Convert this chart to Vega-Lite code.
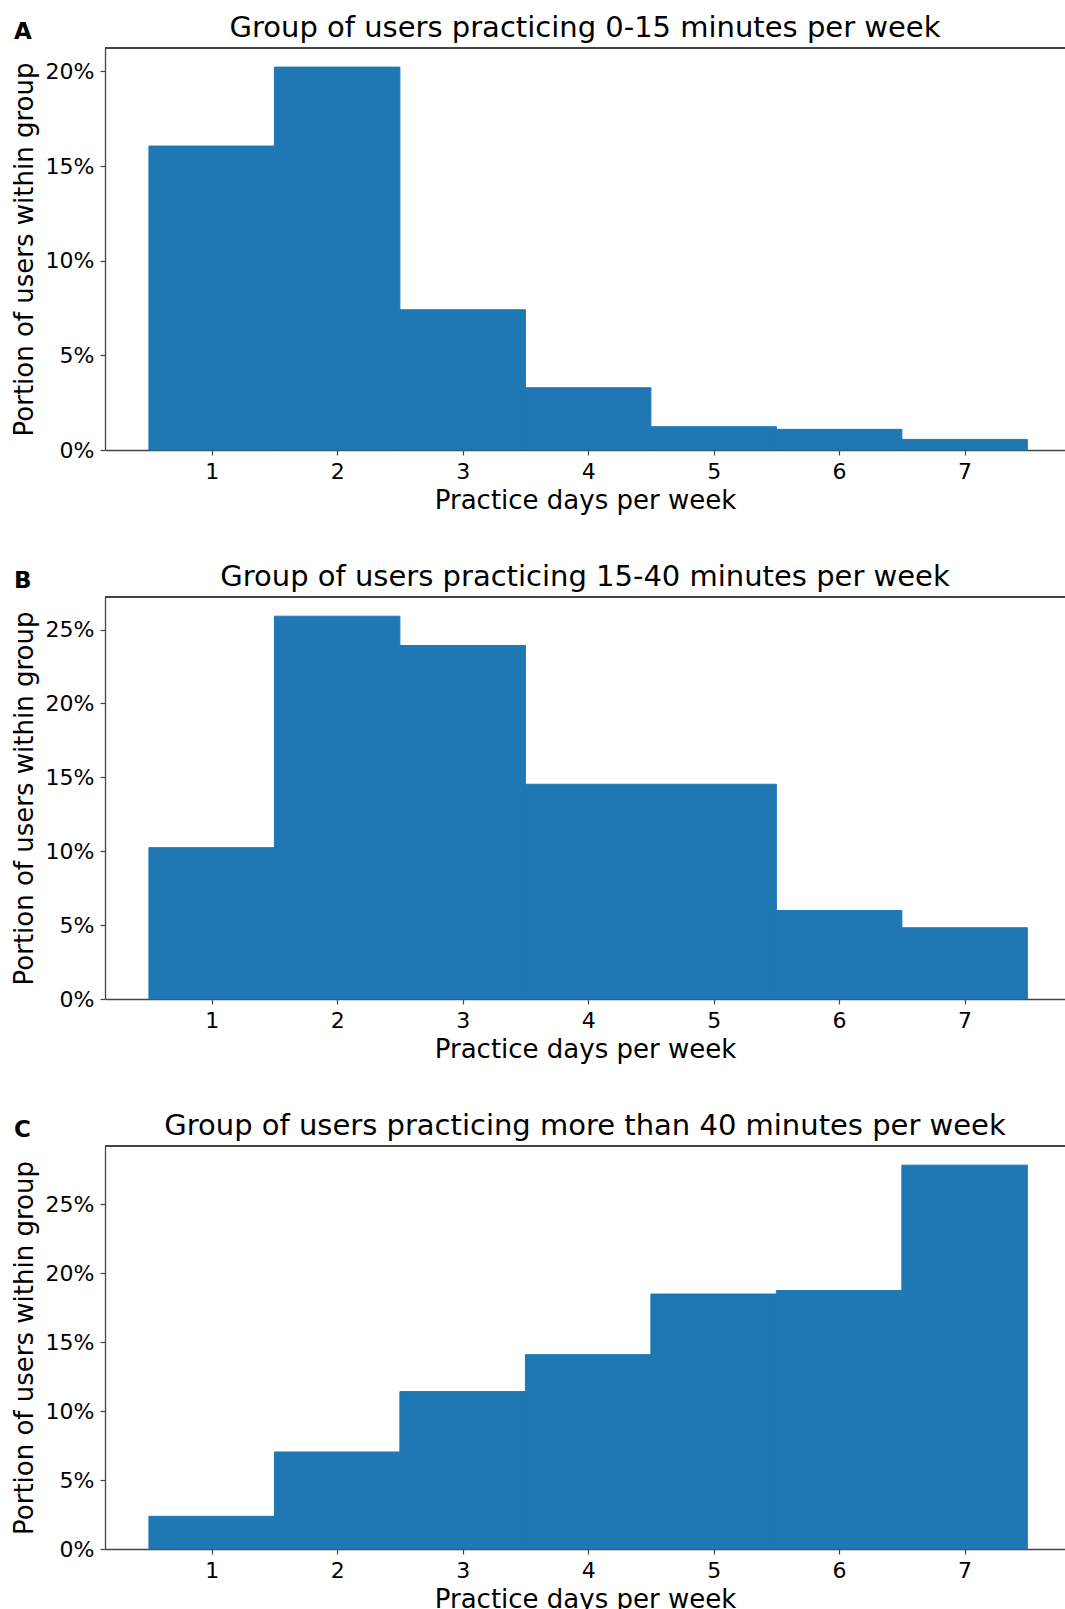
{
  "$schema": "https://vega.github.io/schema/vega-lite/v6.json",
  "padding": {"left": 11, "top": 14, "right": 0, "bottom": 0},
  "spacing": 50,
  "config": {
    "font": "DejaVu Sans",
    "view": {"stroke": null},
    "axis": {
      "grid": false,
      "domainColor": "#444444",
      "domainWidth": 1.3,
      "tickColor": "#444444",
      "tickWidth": 1.2,
      "tickSize": 5,
      "labelColor": "#000000",
      "labelFontSize": 22,
      "labelPadding": 6,
      "labelFlush": false,
      "titleColor": "#000000",
      "titleFontSize": 26,
      "titleFontWeight": "normal",
      "titlePadding": 8
    },
    "axisX": {"titlePadding": 5},
    "title": {"fontSize": 29, "fontWeight": "normal", "color": "#000000", "baseline": "alphabetic", "offset": 4}
  },
  "datasets": {
    "A": [
      {"day": 1, "start": 0.5, "end": 1.5, "pct": 16.06},
      {"day": 2, "start": 1.5, "end": 2.5, "pct": 20.23},
      {"day": 3, "start": 2.5, "end": 3.5, "pct": 7.41},
      {"day": 4, "start": 3.5, "end": 4.5, "pct": 3.29},
      {"day": 5, "start": 4.5, "end": 5.5, "pct": 1.23},
      {"day": 6, "start": 5.5, "end": 6.5, "pct": 1.09},
      {"day": 7, "start": 6.5, "end": 7.5, "pct": 0.56}
    ],
    "B": [
      {"day": 1, "start": 0.5, "end": 1.5, "pct": 10.24},
      {"day": 2, "start": 1.5, "end": 2.5, "pct": 25.9},
      {"day": 3, "start": 2.5, "end": 3.5, "pct": 23.92},
      {"day": 4, "start": 3.5, "end": 4.5, "pct": 14.53},
      {"day": 5, "start": 4.5, "end": 5.5, "pct": 14.53},
      {"day": 6, "start": 5.5, "end": 6.5, "pct": 5.99},
      {"day": 7, "start": 6.5, "end": 7.5, "pct": 4.82}
    ],
    "C": [
      {"day": 1, "start": 0.5, "end": 1.5, "pct": 2.37},
      {"day": 2, "start": 1.5, "end": 2.5, "pct": 7.04},
      {"day": 3, "start": 2.5, "end": 3.5, "pct": 11.42},
      {"day": 4, "start": 3.5, "end": 4.5, "pct": 14.1},
      {"day": 5, "start": 4.5, "end": 5.5, "pct": 18.5},
      {"day": 6, "start": 5.5, "end": 6.5, "pct": 18.75},
      {"day": 7, "start": 6.5, "end": 7.5, "pct": 27.85}
    ]
  },
  "vconcat": [
    {
      "title": {"text": "A", "anchor": "start", "frame": "bounds", "fontSize": 23, "fontWeight": "bold", "offset": -30, "dx": 3},
      "vconcat": [
        {
          "width": 960, "height": 402,
          "title": "Group of users practicing 0-15 minutes per week",
          "data": {"name": "A"},
          "layer": [
            {
              "mark": {"type": "bar", "color": "#1f77b4", "stroke": "#1f77b4", "strokeWidth": 1},
              "encoding": {
                "x": {"field": "start", "type": "quantitative", "scale": {"domain": [0.15, 7.8], "nice": false, "zero": false},
                      "axis": {"values": [1, 2, 3, 4, 5, 6, 7], "title": "Practice days per week"}},
                "x2": {"field": "end"},
                "y": {"field": "pct", "type": "quantitative", "scale": {"domain": [0, 21.24], "nice": false},
                      "axis": {"values": [0, 5, 10, 15, 20], "labelExpr": "datum.value + '%'", "title": "Portion of users within group"}},
                "y2": {"datum": 0}
              }
            },
            {"mark": {"type": "rule", "color": "#444444", "strokeWidth": 1.3}, "encoding": {"y": {"datum": 21.24}}}
          ]
        }
      ]
    },
    {
      "title": {"text": "B", "anchor": "start", "frame": "bounds", "fontSize": 23, "fontWeight": "bold", "offset": -30, "dx": 3},
      "vconcat": [
        {
          "width": 960, "height": 402,
          "title": "Group of users practicing 15-40 minutes per week",
          "data": {"name": "B"},
          "layer": [
            {
              "mark": {"type": "bar", "color": "#1f77b4", "stroke": "#1f77b4", "strokeWidth": 1},
              "encoding": {
                "x": {"field": "start", "type": "quantitative", "scale": {"domain": [0.15, 7.8], "nice": false, "zero": false},
                      "axis": {"values": [1, 2, 3, 4, 5, 6, 7], "title": "Practice days per week"}},
                "x2": {"field": "end"},
                "y": {"field": "pct", "type": "quantitative", "scale": {"domain": [0, 27.2], "nice": false},
                      "axis": {"values": [0, 5, 10, 15, 20, 25], "labelExpr": "datum.value + '%'", "title": "Portion of users within group"}},
                "y2": {"datum": 0}
              }
            },
            {"mark": {"type": "rule", "color": "#444444", "strokeWidth": 1.3}, "encoding": {"y": {"datum": 27.2}}}
          ]
        }
      ]
    },
    {
      "title": {"text": "C", "anchor": "start", "frame": "bounds", "fontSize": 23, "fontWeight": "bold", "offset": -30, "dx": 3},
      "vconcat": [
        {
          "width": 960, "height": 403,
          "title": "Group of users practicing more than 40 minutes per week",
          "data": {"name": "C"},
          "layer": [
            {
              "mark": {"type": "bar", "color": "#1f77b4", "stroke": "#1f77b4", "strokeWidth": 1},
              "encoding": {
                "x": {"field": "start", "type": "quantitative", "scale": {"domain": [0.15, 7.8], "nice": false, "zero": false},
                      "axis": {"values": [1, 2, 3, 4, 5, 6, 7], "title": "Practice days per week"}},
                "x2": {"field": "end"},
                "y": {"field": "pct", "type": "quantitative", "scale": {"domain": [0, 29.24], "nice": false},
                      "axis": {"values": [0, 5, 10, 15, 20, 25], "labelExpr": "datum.value + '%'", "title": "Portion of users within group"}},
                "y2": {"datum": 0}
              }
            },
            {"mark": {"type": "rule", "color": "#444444", "strokeWidth": 1.3}, "encoding": {"y": {"datum": 29.24}}}
          ]
        }
      ]
    }
  ]
}
